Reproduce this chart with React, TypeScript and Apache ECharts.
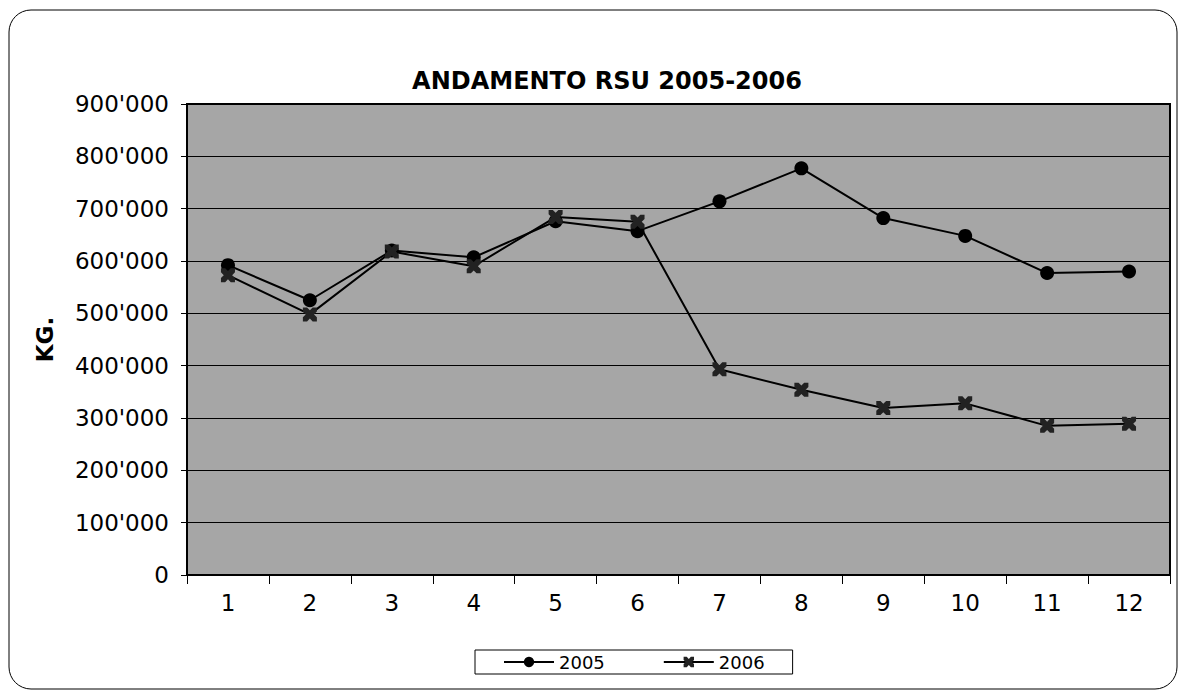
import React, { useEffect, useRef } from "react";
import * as echarts from "echarts";

const categories = ["1", "2", "3", "4", "5", "6", "7", "8", "9", "10", "11", "12"];
const values2005 = [592000, 525000, 620000, 607000, 676000, 657000, 714000, 777000, 682000, 648000, 577000, 580000];
const values2006 = [573000, 498000, 618000, 590000, 684000, 675000, 393000, 354000, 319000, 328000, 285000, 289000];
const yMin = 0;
const yMax = 900000;
const yStep = 100000;

const xMarker = "path://M0,0 L3,0 L5,2 L7,0 L10,0 L10,3 L8,5 L10,7 L10,10 L7,10 L5,8 L3,10 L0,10 L0,7 L2,5 L0,3 Z";

const fmt = (v: number) => {
  if (v === 0) return "0";
  const s = String(Math.round(v));
  return s.replace(/\B(?=(\d{3})+(?!\d))/g, "'");
};

export default function App() {
  const ref = useRef<HTMLDivElement>(null);
  useEffect(() => {
    document.body.style.margin = "0";
    const chart = echarts.init(ref.current!, null, { renderer: "svg" });
    const font = "'DejaVu Sans', Arial, sans-serif";
    chart.setOption({
      animation: false,
      backgroundColor: "#ffffff",
      title: {
        text: "ANDAMENTO RSU 2005-2006",
        left: 602,
        textAlign: "center",
        top: 64,
        textStyle: { fontFamily: font, fontSize: 24, fontWeight: "bold", color: "#000" },
      },
      graphic: [
        {
          type: "rect",
          shape: { x: 9, y: 10, width: 1168, height: 679, r: 22 },
          style: { fill: "none", stroke: "#000", lineWidth: 1 },
          silent: true,
          z: -1,
        },
      ],
      legend: {
        left: 475,
        top: 650,
        itemWidth: 50,
        itemHeight: 13,
        itemGap: 58,
        padding: [3, 28, 3, 28],
        borderColor: "#000",
        borderWidth: 1,
        backgroundColor: "#fff",
        borderRadius: 0,
        textStyle: { fontFamily: font, fontSize: 18, color: "#000" },
        data: ["2005", "2006"],
      },
      grid: {
        left: 187,
        right: 9,
        top: 104,
        bottom: 119,
        show: true,
        backgroundColor: "#a6a6a6",
        borderColor: "#000",
        borderWidth: 2,
        containLabel: false,
      },
      xAxis: {
        type: "category",
        data: categories,
        boundaryGap: true,
        axisLine: { lineStyle: { color: "#000", width: 2 } },
        axisTick: { show: true, length: 9, lineStyle: { color: "#000", width: 1 } },
        axisLabel: { fontFamily: font, fontSize: 23, color: "#000", margin: 16 },
        splitLine: { show: false },
      },
      yAxis: {
        type: "value",
        min: yMin,
        max: yMax,
        interval: yStep,
        name: "KG.",
        nameLocation: "middle",
        nameRotate: 90,
        nameGap: 131,
        nameTextStyle: { fontFamily: font, fontSize: 23, fontWeight: "bold", color: "#000" },
        axisLine: { show: true, lineStyle: { color: "#000", width: 2 } },
        axisTick: { show: true, length: 6, lineStyle: { color: "#000" } },
        axisLabel: { fontFamily: font, fontSize: 23, color: "#000", margin: 18, formatter: fmt },
        splitLine: { show: true, lineStyle: { color: "#000", width: 1 } },
      },
      series: [
        {
          name: "2005",
          type: "line",
          data: values2005,
          symbol: "circle",
          symbolSize: 14,
          itemStyle: { color: "#000" },
          lineStyle: { color: "#000", width: 2 },
        },
        {
          name: "2006",
          type: "line",
          data: values2006,
          symbol: xMarker,
          symbolSize: 14,
          itemStyle: { color: "#222" },
          lineStyle: { color: "#000", width: 2 },
        },
      ],
    });
    return () => chart.dispose();
  }, []);
  return <div ref={ref} style={{ width: 1179, height: 694 }} />;
}
